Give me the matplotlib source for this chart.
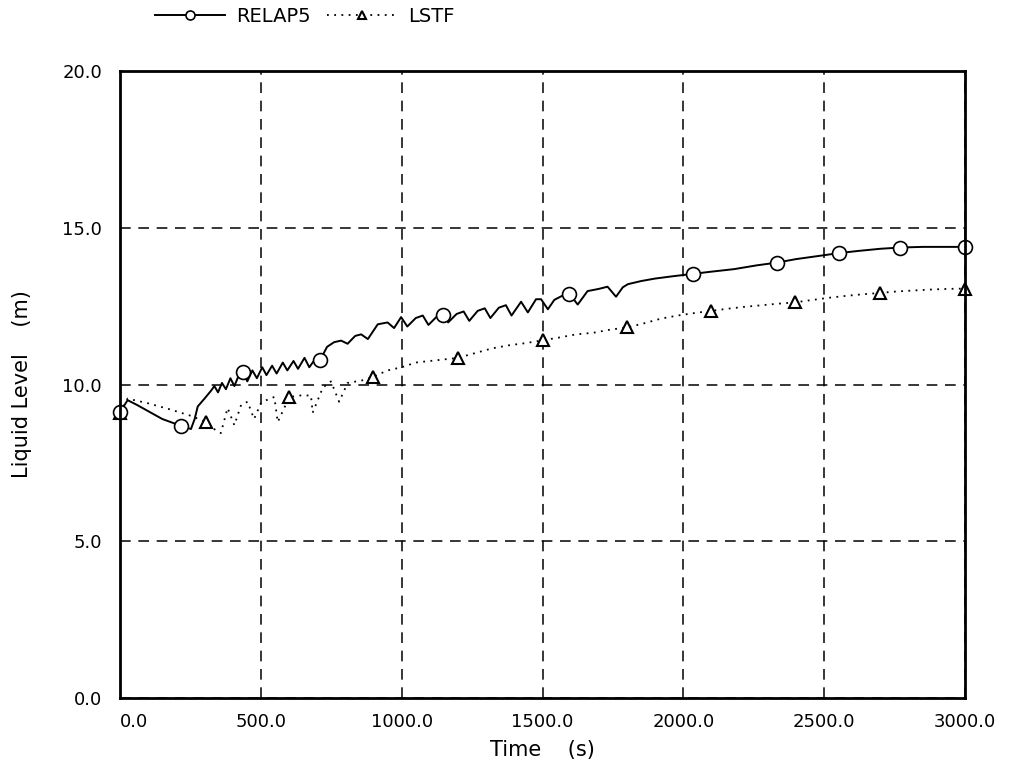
import matplotlib
matplotlib.use("Agg")
import matplotlib.pyplot as plt
import numpy as np

# RELAP5 calculation (solid line, open circles)
relap_t = [0, 27, 60, 100, 150, 217, 252, 265, 276, 300, 323, 335, 348, 362, 376,
           392, 406, 422, 436, 452, 470, 486, 505, 520, 540, 556, 578, 594, 616,
           632, 655, 672, 692, 710, 735, 760, 785, 808, 835, 856, 880, 915, 950,
           973, 998, 1020, 1050, 1075, 1095, 1125, 1147, 1165, 1195, 1220, 1240,
           1270, 1295, 1315, 1345, 1370, 1390, 1424, 1448, 1477, 1495, 1519, 1542,
           1570, 1595, 1625, 1660, 1700, 1731, 1761, 1785, 1803, 1850, 1900, 1960,
           2034, 2100, 2180, 2260, 2333, 2400, 2480, 2551, 2620, 2700, 2771, 2850,
           2920, 3000]
relap_y = [9.12, 9.5, 9.35, 9.15, 8.9, 8.68, 8.58, 8.9, 9.3, 9.55, 9.8, 9.95, 9.75,
           10.05, 9.85, 10.2, 9.95, 10.3, 10.4, 10.1, 10.45, 10.2, 10.55, 10.3,
           10.6, 10.35, 10.7, 10.45, 10.75, 10.5, 10.85, 10.55, 10.8, 10.77, 11.2,
           11.35, 11.4, 11.3, 11.55, 11.6, 11.45, 11.92, 11.98, 11.8, 12.15, 11.85,
           12.12, 12.2, 11.9, 12.17, 12.22, 11.98, 12.25, 12.33, 12.03, 12.35,
           12.43, 12.12, 12.45, 12.53, 12.2, 12.64, 12.3, 12.72, 12.72, 12.4,
           12.7, 12.83, 12.9, 12.55, 12.98, 13.05, 13.12, 12.8, 13.1, 13.2, 13.3,
           13.38, 13.45, 13.53, 13.6, 13.68, 13.8, 13.89, 14.0, 14.1, 14.19,
           14.26, 14.33, 14.37, 14.39, 14.39, 14.39]
relap_marks = [0, 217, 436, 710, 1147, 1595, 2034, 2333, 2551, 2771, 3000]

# LSTF experiment (dotted line, open triangles)
lstf_t = [0, 27, 100, 180, 252, 305, 330, 358, 382, 406, 430, 453, 476, 500, 530,
          548, 560, 601, 640, 678, 684, 720, 749, 778, 808, 840, 870, 897, 950,
          1000, 1050, 1100, 1150, 1200, 1260, 1320, 1380, 1440, 1500, 1560, 1620,
          1680, 1740, 1800, 1860, 1920, 1980, 2040, 2099, 2160, 2220, 2280, 2340,
          2397, 2460, 2520, 2580, 2640, 2697, 2760, 2820, 2880, 2940, 3000]
lstf_y = [9.1, 9.55, 9.4, 9.2, 9.0, 8.8, 8.6, 8.45, 9.25, 8.7, 9.35, 9.45, 8.9,
          9.4, 9.55, 9.6, 8.8, 9.6, 9.65, 9.65, 9.1, 9.9, 10.1, 9.45, 10.05, 10.1,
          10.15, 10.24, 10.45, 10.55, 10.7, 10.75, 10.8, 10.85, 11.0, 11.15,
          11.25, 11.32, 11.41, 11.5, 11.6, 11.65, 11.75, 11.82, 11.95, 12.1, 12.2,
          12.28, 12.35, 12.42, 12.48, 12.53, 12.58, 12.62, 12.7, 12.77, 12.83,
          12.88, 12.92, 12.97, 13.0, 13.03, 13.05, 13.06]
lstf_marks = [0, 305, 601, 897, 1200, 1500, 1800, 2099, 2397, 2697, 3000]

x_ticks = [0, 500, 1000, 1500, 2000, 2500, 3000]
y_ticks = [0, 5, 10, 15, 20]

plt.rcParams["font.family"] = ["DejaVu Sans"]

fig = plt.figure(figsize=(10.11, 7.62), dpi=100)
ax = fig.add_axes([0.1187, 0.084, 0.8358, 0.8228])

relap_idx = list(np.where(np.isin(relap_t, relap_marks))[0])
lstf_idx = list(np.where(np.isin(lstf_t, lstf_marks))[0])

ax.plot(relap_t, relap_y, color="black", linewidth=1.4, marker="o",
        markersize=10, markerfacecolor="white", markeredgewidth=1.2,
        markevery=relap_idx, label="RELAP5", zorder=4, clip_on=False)
ax.plot(lstf_t, lstf_y, color="black", linewidth=1.3, linestyle=(0, (1, 3)),
        marker="^", markersize=9, markerfacecolor="white", markeredgewidth=1.5,
        markevery=lstf_idx, label="LSTF", zorder=3, clip_on=False)

ax.set_xlim(0, 3000)
ax.set_ylim(0, 20)
ax.set_xticks(x_ticks)
ax.set_xticklabels([f"{v:.1f}" for v in x_ticks])
ax.set_yticks(y_ticks)
ax.set_yticklabels([f"{v:.1f}" for v in y_ticks])
ax.get_xticklabels()[0].set_horizontalalignment("left")
ax.tick_params(axis="both", length=0, labelsize=13)
ax.tick_params(axis="x", pad=11)
ax.tick_params(axis="y", pad=13)

ax.grid(True, color="black", linestyle=(0, (7, 5)), linewidth=1.1)
for s in ax.spines.values():
    s.set_linewidth(2.0)
    s.set_zorder(5)

ax.set_xlabel("Time    (s)", fontsize=15, labelpad=6)
ax.set_ylabel("Liquid Level    (m)", fontsize=15, labelpad=22)

fig.legend(loc="center left", bbox_to_anchor=(0.153, 0.978), ncol=2,
           frameon=False, fontsize=14, handlelength=3.6, handletextpad=0.6,
           columnspacing=0.8, borderaxespad=0, borderpad=0, numpoints=1,
           markerscale=0.65)

fig.savefig("out.png", dpi=100)
